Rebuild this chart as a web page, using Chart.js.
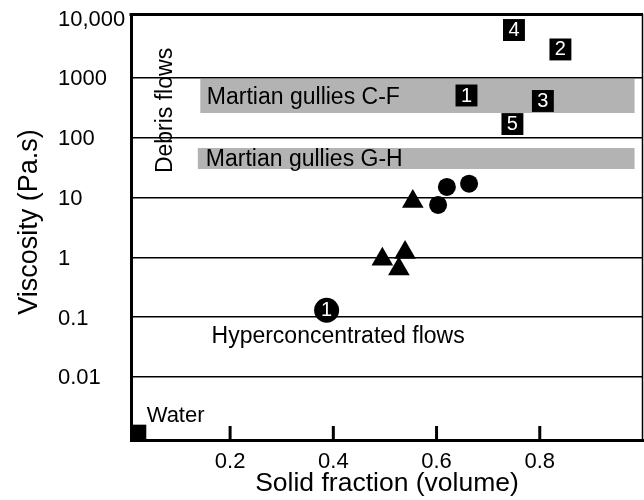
<!DOCTYPE html>
<html><head><meta charset="utf-8">
<script src="https://cdn.jsdelivr.net/npm/chart.js@4/dist/chart.umd.min.js"></script>
<style>html,body{margin:0;padding:0;background:#fff;overflow:hidden;}canvas{display:block;}</style>
</head><body><canvas id="c" width="644" height="500" style="width:644px;height:500px;"></canvas>
<script>
const FONT = "'Liberation Sans', Arial, Helvetica, sans-serif";

// ---- data ----
const xTicks = [0.2, 0.4, 0.6, 0.8];
const yTicks = [0.01, 0.1, 1, 10, 100, 1000, 10000];
const yTickLabels = ['0.01', '0.1', '1', '10', '100', '1000', '10,000'];

const circleX = [0.620, 0.663, 0.603];
const circleY = [15, 17, 7.5];

const triangleX = [0.554, 0.495, 0.527, 0.539];
const triangleY = [8.6, 0.93, 0.64, 1.2];

const numCircleX = [0.387];
const numCircleY = [0.13];
const numCircleLabels = ['1'];

const squareX = [0.658, 0.840, 0.806, 0.750, 0.747];
const squareY = [508, 2990, 411, 6320, 169];
const squareLabels = ['1', '2', '3', '4', '5'];

const waterX = [0.0235];
const waterY = [0.0012];

const bandCFX = [0.142, 0.984];
const bandCFTop = [960, 960];
const bandCFBottom = [260, 260];

const bandGHX = [0.137, 0.984];
const bandGHTop = [67, 67];
const bandGHBottom = [30, 30];

const noteTexts = ['Martian gullies C-F', 'Martian gullies G-H', 'Hyperconcentrated flows', 'Water', 'Debris flows'];
const noteX = [0.155, 0.153, 0.164, 0.0384, 0.0874];
const noteY = [366, 33.6, 0.0365, 0.00178, 285];

const xTitle = 'Solid fraction (volume)';
const yTitle = 'Viscosity (Pa.s)';

// ---- helpers ----
const pts = (xs, ys) => xs.map((x, i) => ({x, y: ys[i]}));

const bandDs = (xs, ys, fill) => ({
  data: pts(xs, ys), fill: fill, backgroundColor: '#b3b3b3',
  borderColor: 'rgba(0,0,0,0)', borderWidth: 0, pointRadius: 0,
  showLine: true, tension: 0, order: 10
});

const markDs = (xs, ys, style, r, extra) => Object.assign({
  data: pts(xs, ys), showLine: false, pointStyle: style, pointRadius: r,
  pointBackgroundColor: '#000', pointBorderColor: '#000', pointBorderWidth: 0,
  order: 0
}, extra || {});

const datasets = [
  bandDs(bandCFX, bandCFTop, '+1'),
  bandDs(bandCFX, bandCFBottom, false),
  bandDs(bandGHX, bandGHTop, '+1'),
  bandDs(bandGHX, bandGHBottom, false),
  markDs(circleX, circleY, 'circle', 9),
  markDs(triangleX, triangleY, 'triangle', 12.5),
  markDs(numCircleX, numCircleY, 'circle', 12.5, {markLabels: numCircleLabels}),
  markDs(squareX, squareY, 'rect', 15.5, {markLabels: squareLabels}),
  markDs(waterX, waterY, 'rect', 10.3)
];

const decorPlugin = {
  id: 'decor',
  afterDatasetsDraw(chart) {
    const ctx = chart.ctx;
    ctx.save();
    ctx.fillStyle = '#fff';
    ctx.textAlign = 'center';
    ctx.textBaseline = 'middle';
    ctx.font = '20px ' + FONT;
    chart.data.datasets.forEach((ds, i) => {
      if (!ds.markLabels) return;
      chart.getDatasetMeta(i).data.forEach((el, j) => {
        ctx.fillText(ds.markLabels[j], el.x, el.y + 0.5);
      });
    });
    ctx.restore();
  },
  afterDraw(chart) {
    const ctx = chart.ctx;
    const a = chart.chartArea;
    const xs = chart.scales.x, ys = chart.scales.y;
    ctx.save();
    ctx.strokeStyle = '#000';
    ctx.lineWidth = 3;
    ctx.beginPath(); ctx.moveTo(a.left - 1.5, a.top + 0.5); ctx.lineTo(a.right, a.top + 0.5); ctx.stroke();
    ctx.lineWidth = 1.5;
    ctx.beginPath(); ctx.moveTo(a.right - 0.5, a.top); ctx.lineTo(a.right - 0.5, a.bottom); ctx.stroke();
    ctx.lineWidth = 3;
    xTicks.forEach(v => {
      const px = xs.getPixelForValue(v);
      ctx.beginPath(); ctx.moveTo(px, a.bottom); ctx.lineTo(px, a.bottom - 14); ctx.stroke();
    });
    ctx.fillStyle = '#000';
    ctx.textBaseline = 'alphabetic';
    noteTexts.forEach((t, i) => {
      const px = xs.getPixelForValue(noteX[i]);
      const py = ys.getPixelForValue(noteY[i]);
      if (t === 'Debris flows') {
        ctx.save();
        ctx.font = '23px ' + FONT;
        ctx.translate(px, py);
        ctx.rotate(-Math.PI / 2);
        ctx.textAlign = 'center';
        ctx.fillText(t, 0, 0);
        ctx.restore();
      } else {
        ctx.font = (t === 'Water' ? '22px ' : '23px ') + FONT;
        ctx.textAlign = 'left';
        ctx.fillText(t, px, py);
      }
    });
    ctx.save();
    ctx.font = '27px ' + FONT;
    ctx.translate(36.5, 222);
    ctx.rotate(-Math.PI / 2);
    ctx.textAlign = 'center';
    ctx.textBaseline = 'alphabetic';
    ctx.fillText(yTitle, 0, 0);
    ctx.restore();
    ctx.restore();
  }
};

const chart = new Chart(document.getElementById('c'), {
  type: 'line',
  data: { datasets },
  plugins: [decorPlugin],
  options: {
    responsive: false,
    animation: false,
    events: [],
    devicePixelRatio: 1,
    layout: { autoPadding: false, padding: { left: 58, right: 1, top: 14, bottom: 0 } },
    plugins: { legend: { display: false }, tooltip: { enabled: false }, title: { display: false } },
    scales: {
      x: {
        type: 'linear', min: 0.008, max: 1.0,
        afterFit: s => { s.height = 60; s.paddingLeft = 0; s.paddingRight = 0; },
        afterBuildTicks: s => { s.ticks = xTicks.map(v => ({value: v})); },
        grid: { display: false, drawTicks: false },
        border: { display: true, color: '#000', width: 3 },
        ticks: { color: '#000', padding: 9, font: { family: FONT, size: 22 }, maxRotation: 0,
                 callback: v => String(v) },
        title: { display: true, text: xTitle, color: '#000', padding: { top: 0, bottom: 0 },
                 font: { family: FONT, size: 26.5 } }
      },
      y: {
        type: 'logarithmic', min: 0.00088, max: 11710,
        afterFit: s => { s.width = 73; s.paddingTop = 0; s.paddingBottom = 0; },
        afterBuildTicks: s => { s.ticks = yTicks.map(v => ({value: v})); },
        grid: { display: true, drawTicks: false, lineWidth: 1.5,
                color: c => (c.tick && c.tick.value === 10000) ? 'rgba(0,0,0,0)' : '#000' },
        border: { display: true, color: '#000', width: 3 },
        ticks: { color: '#000', crossAlign: 'far', labelOffset: 1.5, font: { family: FONT, size: 22 },
                 callback: function (v) { const i = yTicks.indexOf(v); return i >= 0 ? yTickLabels[i] : ''; } }
      }
    }
  }
});

// make sure the plot frame lands where the reference has it
(function fixArea() {
  const a = chart.chartArea;
  if (!a) return;
  const want = { left: 131, right: 643, top: 14, bottom: 440 };
  const p = chart.options.layout.padding;
  const dR = a.right - want.right, dL = want.left - a.left, dT = want.top - a.top, dB = a.bottom - want.bottom;
  if (Math.abs(dR) > 0.5 || Math.abs(dL) > 0.5 || Math.abs(dT) > 0.5 || Math.abs(dB) > 0.5) {
    p.right += dR; p.left += dL; p.top += dT; p.bottom += dB;
    chart.update('none');
  }
})();
</script>
</body></html>
